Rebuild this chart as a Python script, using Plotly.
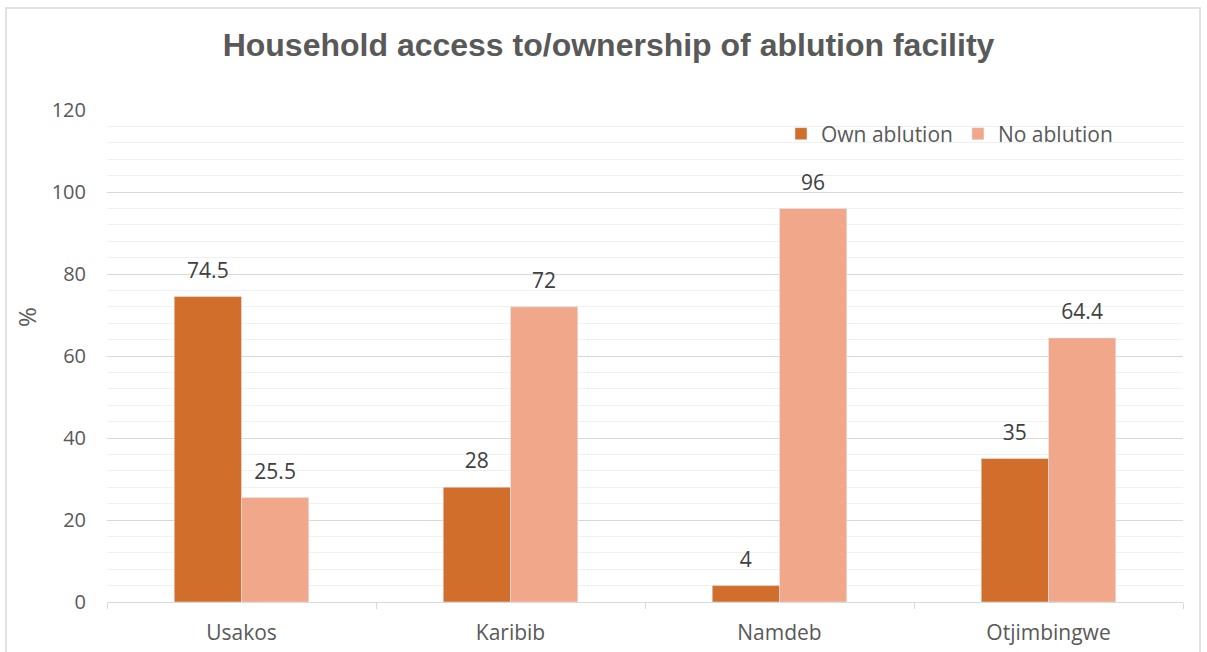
import plotly.graph_objects as go

towns = ["Usakos", "Karibib", "Namdeb", "Otjimbingwe"]
own_ablution = [74.5, 28, 4, 35]
no_ablution = [25.5, 72, 96, 64.4]
own_labels = ["74.5", "28", "4", "35"]
no_labels = ["25.5", "72", "96", "64.4"]

DARK = "#D26E2B"
LIGHT = "#F0A78A"
TEXT = "#595959"
LABEL = "#404040"
BODY_FONT = "Open Sans"
FS = 21

fig = go.Figure()
for name, vals, labels, color in [
    ("Own ablution", own_ablution, own_labels, DARK),
    ("No ablution", no_ablution, no_labels, LIGHT),
]:
    fig.add_trace(go.Bar(
        name=name, x=towns, y=vals, marker_color=color,
        offsetgroup=name, hoverinfo="skip",
    ))
    # value labels, lifted above each bar by an invisible marker
    fig.add_trace(go.Scatter(
        x=towns, y=vals, mode="markers+text", text=labels,
        textposition="top center", offsetgroup=name, showlegend=False,
        marker=dict(size=20, opacity=0, color=color), cliponaxis=False,
        textfont=dict(color=LABEL, size=FS, family=BODY_FONT), hoverinfo="skip",
    ))

L, R, T, B = 107, 24, 110, 50
W, H = 1207, 652
pw, ph = W - L - R, H - T - B

def px_x(v):
    return (v - L) / pw

def px_y(v):
    return (H - B - v) / ph

fig.update_layout(
    width=W, height=H,
    margin=dict(l=L, r=R, t=T, b=B, autoexpand=False),
    paper_bgcolor="white", plot_bgcolor="white",
    barmode="group", bargap=0.5, bargroupgap=0,
    scattermode="group", scattergap=0.5,
    font=dict(family=BODY_FONT, color=TEXT, size=FS),
    title=dict(
        text="<b>Household access to/ownership of ablution facility</b>",
        x=608.5 / W, xanchor="center", y=1 - 45 / H, yanchor="middle",
        font=dict(family="Liberation Sans", size=32, color=TEXT),
    ),
    legend=dict(
        orientation="h", x=px_x(781), y=px_y(134), xanchor="left", yanchor="middle",
        font=dict(size=FS, color=TEXT, family=BODY_FONT), bgcolor="rgba(0,0,0,0)",
        itemwidth=30, traceorder="normal",
    ),
    xaxis=dict(
        automargin=False,
        showline=True, linecolor="#D9D9D9", linewidth=1,
        ticks="outside", tickson="boundaries", ticklen=6, tickcolor="#D9D9D9",
        showgrid=False, tickfont=dict(size=FS, color=TEXT), ticklabelstandoff=12,
    ),
    yaxis=dict(
        automargin=False,
        range=[0, 120], dtick=20, tick0=0,
        showgrid=True, gridcolor="#D9D9D9", gridwidth=1,
        zeroline=False, showline=False,
        minor=dict(dtick=4, showgrid=True, gridcolor="#F0F0F0", gridwidth=1),
        tickfont=dict(size=20, color=TEXT), ticklabelstandoff=20,
    ),
    annotations=[dict(
        text="%", textangle=-90, xref="paper", yref="paper",
        x=px_x(26), y=px_y(317), xanchor="center", yanchor="middle",
        showarrow=False, font=dict(size=24, color=TEXT, family=BODY_FONT),
    )],
    shapes=[dict(
        type="rect", xref="paper", yref="paper",
        x0=px_x(6), x1=px_x(1200), y0=px_y(662), y1=px_y(8),
        line=dict(color="#D9D9D9", width=1.5), fillcolor="rgba(0,0,0,0)", layer="below",
    )],
)

fig.write_html("out.html")
